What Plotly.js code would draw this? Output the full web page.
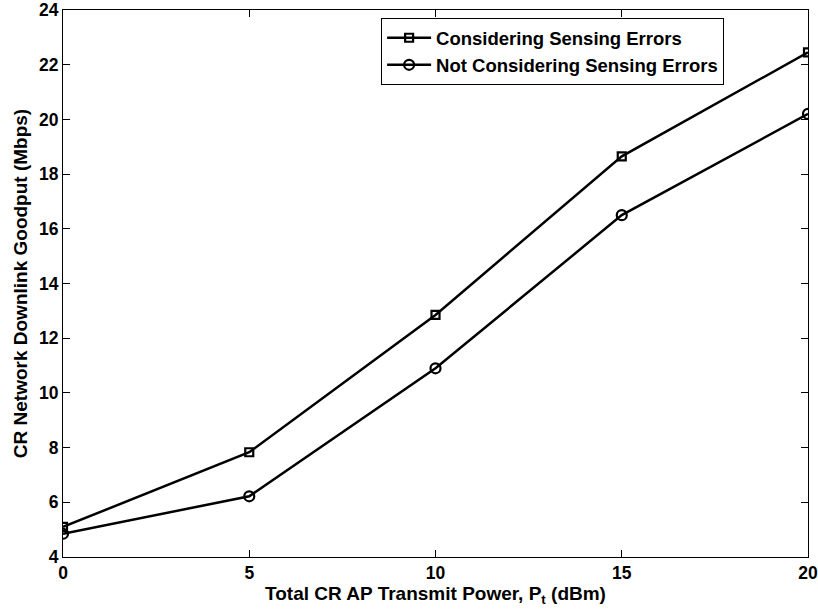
<!DOCTYPE html>
<html>
<head>
<meta charset="utf-8">
<script src="https://cdn.plot.ly/plotly-3.0.1.min.js"></script>
<style>
  html, body { margin: 0; padding: 0; background: #fff; }
  #chart { width: 818px; height: 615px; }
</style>
</head>
<body>
<div id="chart"></div>
<script>
// Total CR AP transmit power (dBm)
const powerDbm = [0, 5, 10, 15, 20];
// Downlink goodput (Mbps)
const goodputWithErrors = [5.1, 7.83, 12.85, 18.65, 22.45];
const goodputWithoutErrors = [4.85, 6.22, 10.9, 16.5, 20.2];
const seriesNames = ['Considering Sensing Errors', 'Not Considering Sensing Errors'];
const xTicks = [0, 5, 10, 15, 20];
const yTicks = [4, 6, 8, 10, 12, 14, 16, 18, 20, 22, 24];

const fontFamily = '"Liberation Sans", Arial, Helvetica, sans-serif';

const traces = [
  {
    x: powerDbm, y: goodputWithErrors, name: seriesNames[0],
    type: 'scatter', mode: 'lines+markers',
    line: { color: '#000', width: 2.5 },
    marker: { symbol: 'square-open', size: 8, color: '#000', line: { color: '#000', width: 2.2 } }
  },
  {
    x: powerDbm, y: goodputWithoutErrors, name: seriesNames[1],
    type: 'scatter', mode: 'lines+markers',
    line: { color: '#000', width: 2.5 },
    marker: { symbol: 'circle-open', size: 10, color: '#000', line: { color: '#000', width: 2.2 } }
  }
];

const axisCommon = {
  showgrid: false, zeroline: false,
  showline: true, mirror: 'ticks', linecolor: '#000', linewidth: 1,
  ticks: 'inside', ticklen: 7, tickwidth: 1, tickcolor: '#000',
  ticklabeloverflow: 'allow',
  tickfont: { family: fontFamily, size: 17.5, color: '#000', weight: 'bold' }
};

const layout = {
  width: 818, height: 615,
  margin: { l: 63, r: 10, t: 10, b: 58 },
  paper_bgcolor: '#fff', plot_bgcolor: '#fff',
  showlegend: true,
  legend: {
    x: 0.427, y: 0.985, xanchor: 'left', yanchor: 'top',
    bgcolor: '#fff', bordercolor: '#000', borderwidth: 1,
    font: { family: fontFamily, size: 18.5, color: '#000', weight: 'bold' },
    tracegroupgap: 0, itemwidth: 44
  },
  xaxis: Object.assign({}, axisCommon, {
    range: [0, 20], tickmode: 'array', tickvals: xTicks, ticktext: xTicks.map(String),
    title: { text: 'Total CR AP Transmit Power, P<sub>t</sub> (dBm)', standoff: 0,
             font: { family: fontFamily, size: 19, color: '#000', weight: 'bold' } }
  }),
  yaxis: Object.assign({}, axisCommon, {
    range: [4, 24], tickmode: 'array', tickvals: yTicks, ticktext: yTicks.map(String),
    title: { text: 'CR Network Downlink Goodput (Mbps)', standoff: 6,
             font: { family: fontFamily, size: 19, color: '#000', weight: 'bold' } }
  })
};

Plotly.newPlot('chart', traces, layout, { displayModeBar: false, staticPlot: true });
</script>
</body>
</html>
